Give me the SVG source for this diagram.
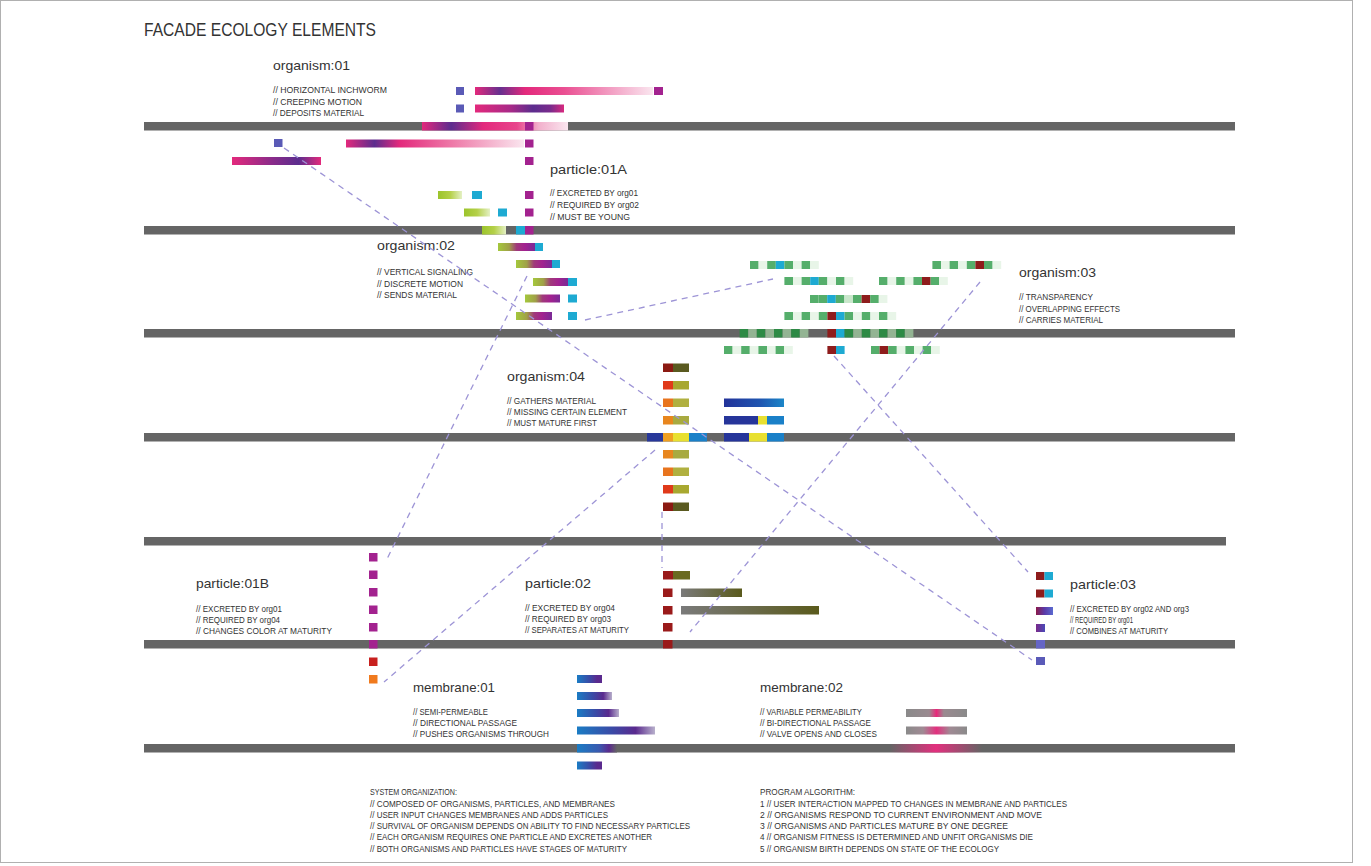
<svg xmlns="http://www.w3.org/2000/svg" width="1371" height="866" viewBox="0 0 1371 866">
<style>
.t{font-family:"Liberation Sans",Arial,sans-serif;fill:#333}
.ttl{font-size:18px}
.lbl{font-size:13px}
.d{font-size:8.3px}
.n{font-size:8.5px}
.bar{fill:#656565}
.mg{fill:#a3228f}
.bs{fill:#5a5ab6}
.cy{fill:#1eaad2}
.G{fill:#55ae6b}.p{fill:#c9e7cb}.pl{fill:#e8f5e8}.C{fill:#1eaad2}.R{fill:#8e1c1c}.D{fill:#2d8a45}.pd{fill:#93b493}
.con{fill:none;stroke:#9d94d6;stroke-width:1.3;stroke-dasharray:6 5}
</style>
<defs>
<linearGradient id="gO1a"><stop offset="0" stop-color="#e3297c"/><stop offset=".14" stop-color="#66308f"/><stop offset=".28" stop-color="#e3297c"/><stop offset=".5" stop-color="#ea4f92"/><stop offset="1" stop-color="#fae6ef"/></linearGradient>
<linearGradient id="gO1b"><stop offset="0" stop-color="#e3297c"/><stop offset=".4" stop-color="#a82a88"/><stop offset=".65" stop-color="#5c2d8e"/><stop offset=".85" stop-color="#7a2b8c"/><stop offset="1" stop-color="#d8297e"/></linearGradient>
<linearGradient id="gO1c"><stop offset="0" stop-color="#e3297c"/><stop offset=".2" stop-color="#5c2d8e"/><stop offset=".42" stop-color="#e3297c"/><stop offset=".65" stop-color="#e8458c"/><stop offset=".8" stop-color="#f2b0cc"/><stop offset="1" stop-color="#fae6ef"/></linearGradient>
<linearGradient id="gO1d"><stop offset="0" stop-color="#e3297c"/><stop offset=".16" stop-color="#5c2d8e"/><stop offset=".3" stop-color="#e3297c"/><stop offset=".6" stop-color="#ee7aa8"/><stop offset="1" stop-color="#fae6ef"/></linearGradient>
<linearGradient id="gO1e"><stop offset="0" stop-color="#e3297c"/><stop offset=".45" stop-color="#8a2b8a"/><stop offset=".75" stop-color="#5c2d8e"/><stop offset="1" stop-color="#e3297c"/></linearGradient>
<linearGradient id="gP1"><stop offset="0" stop-color="#9cc42c"/><stop offset=".5" stop-color="#b4d048"/><stop offset="1" stop-color="#e4f0c4"/></linearGradient>
<linearGradient id="gO2"><stop offset="0" stop-color="#a4c83c"/><stop offset=".3" stop-color="#a0a048"/><stop offset=".5" stop-color="#a03a7a"/><stop offset=".72" stop-color="#a3228f"/><stop offset="1" stop-color="#7a2a96"/></linearGradient>
<linearGradient id="gBlue"><stop offset="0" stop-color="#23339a"/><stop offset=".6" stop-color="#1f55b0"/><stop offset="1" stop-color="#1b86c8"/></linearGradient>
<linearGradient id="gP2"><stop offset="0" stop-color="#7a7a7a"/><stop offset="1" stop-color="#5a5a1c"/></linearGradient>
<linearGradient id="gP3a"><stop offset="0" stop-color="#8b1a4a"/><stop offset=".5" stop-color="#5a3aa8"/><stop offset="1" stop-color="#5a6ad0"/></linearGradient>
<linearGradient id="gP3b"><stop offset="0" stop-color="#7a2a8a"/><stop offset="1" stop-color="#4a4ab8"/></linearGradient>
<linearGradient id="gM1"><stop offset="0" stop-color="#1a7cc4"/><stop offset=".5" stop-color="#3a4aa6"/><stop offset=".8" stop-color="#5a2a8e"/><stop offset="1" stop-color="#5a2a8e"/></linearGradient>
<linearGradient id="gM1f"><stop offset="0" stop-color="#1a7cc4"/><stop offset=".45" stop-color="#3a4aa6"/><stop offset=".75" stop-color="#5a2a8e"/><stop offset="1" stop-color="#b8b0cc"/></linearGradient>
<linearGradient id="gM1b"><stop offset="0" stop-color="#1a7cc4"/><stop offset=".55" stop-color="#3a5ab0"/><stop offset=".8" stop-color="#5a2a8e"/><stop offset="1" stop-color="#656565"/></linearGradient>
<linearGradient id="gM2a"><stop offset="0" stop-color="#8a8a8a"/><stop offset=".38" stop-color="#9a8a90"/><stop offset=".5" stop-color="#e8287a"/><stop offset=".62" stop-color="#9a8a90"/><stop offset="1" stop-color="#8a8a8a"/></linearGradient>
<linearGradient id="gM2b"><stop offset="0" stop-color="#8a8a8a"/><stop offset=".28" stop-color="#a08a94"/><stop offset=".5" stop-color="#e2307e"/><stop offset=".72" stop-color="#a08a94"/><stop offset="1" stop-color="#8a8a8a"/></linearGradient>
<linearGradient id="gM2c"><stop offset="0" stop-color="#e2307e" stop-opacity="0"/><stop offset=".5" stop-color="#e2307e" stop-opacity="1"/><stop offset="1" stop-color="#e2307e" stop-opacity="0"/></linearGradient>
</defs>
<rect width="1371" height="866" fill="#fff"/>
<rect x="0.5" y="0.5" width="1352" height="862" fill="none" stroke="#b0b0b0"/>

<g id="title"><text class="t ttl" x="144" y="36" textLength="232" lengthAdjust="spacingAndGlyphs">FACADE ECOLOGY ELEMENTS</text></g>

<g id="layers">
<rect class="bar" x="144" y="122" width="1091" height="8.5"/>
<rect class="bar" x="144" y="226" width="1091" height="8.5"/>
<rect class="bar" x="144" y="329" width="1091" height="8.5"/>
<rect class="bar" x="144" y="433" width="1091" height="8.5"/>
<rect class="bar" x="144" y="537" width="1082" height="8.5"/>
<rect class="bar" x="144" y="640" width="1091" height="8.5"/>
<rect class="bar" x="144" y="744" width="1091" height="8.5"/>
</g>

<g id="organism01">
<text class="t lbl" x="273" y="70" textLength="77" lengthAdjust="spacingAndGlyphs">organism:01</text>
<text class="t d" x="273" y="93" textLength="114" lengthAdjust="spacingAndGlyphs">// HORIZONTAL INCHWORM</text>
<text class="t d" x="273" y="104.5" textLength="89" lengthAdjust="spacingAndGlyphs">// CREEPING MOTION</text>
<text class="t d" x="273" y="116" textLength="91" lengthAdjust="spacingAndGlyphs">// DEPOSITS MATERIAL</text>
<rect class="bs" x="456" y="87" width="8" height="8"/>
<rect x="475" y="87" width="178" height="8" fill="url(#gO1a)"/>
<rect class="mg" x="654" y="87" width="9" height="8"/>
<rect class="bs" x="456" y="104.5" width="8" height="8"/>
<rect x="475" y="104.5" width="89" height="8" fill="url(#gO1b)"/>
<rect x="422" y="122" width="146" height="8.5" fill="url(#gO1c)"/>
<rect class="bs" x="274" y="139" width="8.5" height="8"/>
<rect x="346" y="139.5" width="178" height="8" fill="url(#gO1d)"/>
<rect x="232" y="157" width="89" height="8" fill="url(#gO1e)"/>
</g>

<g id="particle01A">
<text class="t lbl" x="550" y="174" textLength="77" lengthAdjust="spacingAndGlyphs">particle:01A</text>
<text class="t d" x="550" y="196" textLength="88" lengthAdjust="spacingAndGlyphs">// EXCRETED BY org01</text>
<text class="t d" x="550" y="208" textLength="89" lengthAdjust="spacingAndGlyphs">// REQUIRED BY org02</text>
<text class="t d" x="550" y="220" textLength="80" lengthAdjust="spacingAndGlyphs">// MUST BE YOUNG</text>
<rect class="mg" x="525" y="122" width="8.5" height="8.5"/>
<rect class="mg" x="525" y="139.5" width="8.5" height="8"/>
<rect class="mg" x="525" y="157" width="8.5" height="8"/>
<rect class="mg" x="525" y="191" width="8.5" height="8"/>
<rect class="mg" x="525" y="208.5" width="8.5" height="8"/>
<rect class="mg" x="525" y="226" width="8.5" height="8.5"/>
<rect x="438" y="191" width="24" height="8" fill="url(#gP1)"/>
<rect class="cy" x="472" y="191" width="10" height="8"/>
<rect x="464" y="208.5" width="26" height="8" fill="url(#gP1)"/>
<rect class="cy" x="498" y="208.5" width="9" height="8"/>
<rect x="482" y="226" width="24" height="8.5" fill="url(#gP1)"/>
<rect class="cy" x="516" y="226" width="9" height="8.5"/>
</g>

<g id="organism02">
<text class="t lbl" x="377" y="250" textLength="78" lengthAdjust="spacingAndGlyphs">organism:02</text>
<text class="t d" x="377" y="275" textLength="96" lengthAdjust="spacingAndGlyphs">// VERTICAL SIGNALING</text>
<text class="t d" x="377" y="286.5" textLength="86" lengthAdjust="spacingAndGlyphs">// DISCRETE MOTION</text>
<text class="t d" x="377" y="298" textLength="80" lengthAdjust="spacingAndGlyphs">// SENDS MATERIAL</text>
<rect x="498" y="243" width="37" height="8" fill="url(#gO2)"/><rect class="cy" x="535" y="243" width="8" height="8"/>
<rect x="516" y="260" width="36" height="8" fill="url(#gO2)"/><rect class="cy" x="552" y="260" width="8" height="8"/>
<rect x="533" y="278" width="35" height="8" fill="url(#gO2)"/><rect class="cy" x="568" y="278" width="9" height="8"/>
<rect x="525" y="294.5" width="35" height="8" fill="url(#gO2)"/><rect class="cy" x="568" y="294.5" width="9" height="8"/>
<rect x="516" y="312" width="36" height="8" fill="url(#gO2)"/><rect class="cy" x="568" y="312" width="9" height="8"/>
</g>

<g id="organism03">
<text class="t lbl" x="1019" y="277" textLength="77" lengthAdjust="spacingAndGlyphs">organism:03</text>
<text class="t d" x="1019" y="300" textLength="74" lengthAdjust="spacingAndGlyphs">// TRANSPARENCY</text>
<text class="t d" x="1019" y="312" textLength="101" lengthAdjust="spacingAndGlyphs">// OVERLAPPING EFFECTS</text>
<text class="t d" x="1019" y="323" textLength="84" lengthAdjust="spacingAndGlyphs">// CARRIES MATERIAL</text>
<!-- row 1 -->
<g transform="translate(750,261)"><rect class="G" x="0" width="8.6" height="8"/><rect class="pl" x="8.6" width="8.6" height="8"/><rect class="G" x="17.2" width="8.6" height="8"/><rect class="C" x="25.8" width="8.6" height="8"/><rect class="G" x="34.4" width="8.6" height="8"/><rect class="pl" x="43" width="8.6" height="8"/><rect class="G" x="51.6" width="8.6" height="8"/><rect class="pl" x="60.2" width="8.6" height="8"/></g>
<g transform="translate(932.4,261)"><rect class="G" x="0" width="8.6" height="8"/><rect class="pl" x="8.6" width="8.6" height="8"/><rect class="G" x="17.2" width="8.6" height="8"/><rect class="pl" x="25.8" width="8.6" height="8"/><rect class="G" x="34.4" width="8.6" height="8"/><rect class="R" x="43" width="8.6" height="8"/><rect class="G" x="51.6" width="8.6" height="8"/><rect class="pl" x="60.2" width="8.6" height="8"/></g>
<!-- row 2 -->
<g transform="translate(784.4,277)"><rect class="G" x="0" width="8.6" height="8"/><rect class="pl" x="8.6" width="8.6" height="8"/><rect class="G" x="17.2" width="8.6" height="8"/><rect class="C" x="25.8" width="8.6" height="8"/><rect class="G" x="34.4" width="8.6" height="8"/><rect class="pl" x="43" width="8.6" height="8"/><rect class="G" x="51.6" width="8.6" height="8"/><rect class="pl" x="60.2" width="8.6" height="8"/></g>
<g transform="translate(879,277)"><rect class="G" x="0" width="8.6" height="8"/><rect class="pl" x="8.6" width="8.6" height="8"/><rect class="G" x="17.2" width="8.6" height="8"/><rect class="pl" x="25.8" width="8.6" height="8"/><rect class="G" x="34.4" width="8.6" height="8"/><rect class="R" x="43" width="8.6" height="8"/><rect class="G" x="51.6" width="8.6" height="8"/><rect class="pl" x="60.2" width="8.6" height="8"/></g>
<!-- row 3 -->
<g transform="translate(810,295)"><rect class="G" x="0" width="8.6" height="8"/><rect class="G" x="8.6" width="8.6" height="8"/><rect class="C" x="17.2" width="8.6" height="8"/><rect class="G" x="25.8" width="8.6" height="8"/><rect class="p" x="34.4" width="8.6" height="8"/><rect class="G" x="43" width="8.6" height="8"/><rect class="R" x="51.6" width="8.6" height="8"/><rect class="G" x="60.2" width="8.6" height="8"/><rect class="pl" x="68.8" width="8.6" height="8"/></g>
<!-- row 4 -->
<g transform="translate(784.4,312)"><rect class="G" x="0" width="8.6" height="8"/><rect class="pl" x="8.6" width="8.6" height="8"/><rect class="G" x="17.2" width="8.6" height="8"/><rect class="pl" x="25.8" width="8.6" height="8"/><rect class="G" x="34.4" width="8.6" height="8"/><rect class="R" x="43" width="8.6" height="8"/><rect class="C" x="51.6" width="8.6" height="8"/><rect class="G" x="60.2" width="8.6" height="8"/><rect class="pl" x="68.8" width="8.6" height="8"/><rect class="G" x="77.4" width="8.6" height="8"/><rect class="pl" x="86" width="8.6" height="8"/><rect class="G" x="94.6" width="8.6" height="8"/><rect class="pl" x="103.2" width="8.6" height="8"/></g>
<!-- on layer -->
<g transform="translate(739.6,329)"><rect class="D" x="0" width="8.6" height="8.5"/><rect class="pd" x="8.6" width="8.6" height="8.5"/><rect class="D" x="17.2" width="8.6" height="8.5"/><rect class="pd" x="25.8" width="8.6" height="8.5"/><rect class="D" x="34.4" width="8.6" height="8.5"/><rect class="pd" x="43" width="8.6" height="8.5"/><rect class="D" x="51.6" width="8.6" height="8.5"/><rect class="pd" x="60.2" width="8.6" height="8.5"/></g>
<g transform="translate(827.4,329)"><rect class="R" x="0" width="8.6" height="8.5"/><rect class="C" x="8.6" width="8.6" height="8.5"/><rect class="D" x="17.2" width="8.6" height="8.5"/><rect class="pd" x="25.8" width="8.6" height="8.5"/><rect class="D" x="34.4" width="8.6" height="8.5"/><rect class="pd" x="43" width="8.6" height="8.5"/><rect class="D" x="51.6" width="8.6" height="8.5"/><rect class="pd" x="60.2" width="8.6" height="8.5"/><rect class="D" x="68.8" width="8.6" height="8.5"/><rect class="pd" x="77.4" width="8.6" height="8.5"/></g>
<!-- below layer -->
<g transform="translate(724,346)"><rect class="G" x="0" width="8.6" height="8"/><rect class="pl" x="8.6" width="8.6" height="8"/><rect class="G" x="17.2" width="8.6" height="8"/><rect class="pl" x="25.8" width="8.6" height="8"/><rect class="G" x="34.4" width="8.6" height="8"/><rect class="pl" x="43" width="8.6" height="8"/><rect class="G" x="51.6" width="8.6" height="8"/><rect class="pl" x="60.2" width="8.6" height="8"/></g>
<rect class="R" x="827.4" y="346" width="8.6" height="8"/><rect class="C" x="836" y="346" width="8.6" height="8"/>
<g transform="translate(871,346)"><rect class="G" x="0" width="8.6" height="8"/><rect class="R" x="8.6" width="8.6" height="8"/><rect class="G" x="17.2" width="8.6" height="8"/><rect class="pl" x="25.8" width="8.6" height="8"/><rect class="G" x="34.4" width="8.6" height="8"/><rect class="pl" x="43" width="8.6" height="8"/><rect class="G" x="51.6" width="8.6" height="8"/><rect class="pl" x="60.2" width="8.6" height="8"/></g>
</g>

<g id="organism04">
<text class="t lbl" x="507" y="381" textLength="78" lengthAdjust="spacingAndGlyphs">organism:04</text>
<text class="t d" x="507" y="404" textLength="89" lengthAdjust="spacingAndGlyphs">// GATHERS MATERIAL</text>
<text class="t d" x="507" y="415" textLength="120" lengthAdjust="spacingAndGlyphs">// MISSING CERTAIN ELEMENT</text>
<text class="t d" x="507" y="426" textLength="90" lengthAdjust="spacingAndGlyphs">// MUST MATURE FIRST</text>
<rect x="663" y="363.5" width="10" height="8.5" fill="#8b1a12"/><rect x="673" y="363.5" width="16" height="8.5" fill="#5a5a20"/>
<rect x="663" y="381" width="10" height="8.5" fill="#e03a1a"/><rect x="673" y="381" width="16" height="8.5" fill="#a8a830"/>
<rect x="663" y="398.5" width="10" height="8.5" fill="#e8741e"/><rect x="673" y="398.5" width="16" height="8.5" fill="#b0b040"/>
<rect x="663" y="416" width="10" height="8.5" fill="#e8861e"/><rect x="673" y="416" width="16" height="8.5" fill="#a8aa40"/>
<rect x="647" y="433" width="16" height="8.5" fill="#28389a"/><rect x="663" y="433" width="10" height="8.5" fill="#f0a020"/><rect x="673" y="433" width="16" height="8.5" fill="#e8e030"/><rect x="689" y="433" width="18" height="8.5" fill="#1a80c8"/>
<rect x="663" y="450" width="10" height="8.5" fill="#e8861e"/><rect x="673" y="450" width="16" height="8.5" fill="#a8aa40"/>
<rect x="663" y="467.5" width="10" height="8.5" fill="#e8741e"/><rect x="673" y="467.5" width="16" height="8.5" fill="#b0b040"/>
<rect x="663" y="485" width="10" height="8.5" fill="#e03a1a"/><rect x="673" y="485" width="16" height="8.5" fill="#a8a830"/>
<rect x="663" y="502.5" width="10" height="8.5" fill="#8b1a12"/><rect x="673" y="502.5" width="16" height="8.5" fill="#5a5a20"/>
<rect x="724" y="398.5" width="60" height="8.5" fill="url(#gBlue)"/>
<rect x="724" y="416" width="34" height="8.5" fill="#26359a"/><rect x="758" y="416" width="9" height="8.5" fill="#e8e030"/><rect x="767" y="416" width="17" height="8.5" fill="#1a80c8"/>
<rect x="724" y="433" width="25" height="8.5" fill="#26359a"/><rect x="749" y="433" width="18" height="8.5" fill="#e8e030"/><rect x="767" y="433" width="17" height="8.5" fill="#1a80c8"/>
</g>

<g id="particle01B">
<text class="t lbl" x="196" y="588" textLength="73" lengthAdjust="spacingAndGlyphs">particle:01B</text>
<text class="t d" x="196" y="612" textLength="86" lengthAdjust="spacingAndGlyphs">// EXCRETED BY org01</text>
<text class="t d" x="196" y="623" textLength="84" lengthAdjust="spacingAndGlyphs">// REQUIRED BY org04</text>
<text class="t d" x="196" y="634" textLength="136" lengthAdjust="spacingAndGlyphs">// CHANGES COLOR AT MATURITY</text>
<rect class="mg" x="369" y="553" width="8.5" height="8.5"/>
<rect class="mg" x="369" y="570.5" width="8.5" height="8.5"/>
<rect class="mg" x="369" y="588" width="8.5" height="8.5"/>
<rect class="mg" x="369" y="605.5" width="8.5" height="8.5"/>
<rect class="mg" x="369" y="623" width="8.5" height="8.5"/>
<rect class="mg" x="369" y="640" width="8.5" height="8.5"/>
<rect x="369" y="657.5" width="8.5" height="8.5" fill="#c8201e"/>
<rect x="369" y="675" width="8.5" height="8.5" fill="#f07a1e"/>
</g>

<g id="particle02">
<text class="t lbl" x="525" y="588" textLength="66" lengthAdjust="spacingAndGlyphs">particle:02</text>
<text class="t d" x="525" y="611" textLength="90" lengthAdjust="spacingAndGlyphs">// EXCRETED BY org04</text>
<text class="t d" x="525" y="622" textLength="86" lengthAdjust="spacingAndGlyphs">// REQUIRED BY org03</text>
<text class="t d" x="525" y="633" textLength="104" lengthAdjust="spacingAndGlyphs">// SEPARATES AT MATURITY</text>
<rect x="663" y="571" width="10" height="8.5" fill="#9a1a1a"/><rect x="673" y="571" width="17" height="8.5" fill="#6a6a20"/>
<rect x="663" y="588.5" width="9.5" height="8.5" fill="#9a1a1a"/>
<rect x="681" y="588.5" width="61" height="8.5" fill="url(#gP2)"/>
<rect x="663" y="606" width="9.5" height="8.5" fill="#9a1a1a"/>
<rect x="681" y="606" width="138" height="8.5" fill="url(#gP2)"/>
<rect x="663" y="623" width="9.5" height="8.5" fill="#9a1a1a"/>
<rect x="663" y="640" width="9.5" height="8.5" fill="#9a1a1a"/>
</g>

<g id="particle03">
<text class="t lbl" x="1070" y="589" textLength="66" lengthAdjust="spacingAndGlyphs">particle:03</text>
<text class="t d" x="1070" y="612" textLength="119" lengthAdjust="spacingAndGlyphs">// EXCRETED BY org02 AND org3</text>
<text class="t d" x="1070" y="623" textLength="63" lengthAdjust="spacingAndGlyphs">// REQUIRED BY org01</text>
<text class="t d" x="1070" y="634" textLength="98" lengthAdjust="spacingAndGlyphs">// COMBINES AT MATURITY</text>
<rect x="1036" y="572" width="8.5" height="8" fill="#8e1c1c"/><rect x="1044.5" y="572" width="8.5" height="8" fill="#1eaad2"/>
<rect x="1036" y="589.5" width="8.5" height="8" fill="#8e1c1c"/><rect x="1044.5" y="589.5" width="8.5" height="8" fill="#1eaad2"/>
<rect x="1036" y="607" width="17" height="8" fill="url(#gP3a)"/>
<rect x="1036" y="624" width="9" height="8" fill="url(#gP3b)"/>
<rect x="1036" y="640" width="9" height="8.5" fill="#6565c5"/>
<rect x="1036" y="657" width="9" height="8" fill="#5a5ab8"/>
</g>

<g id="membrane01">
<text class="t lbl" x="413" y="692" textLength="82" lengthAdjust="spacingAndGlyphs">membrane:01</text>
<text class="t d" x="413" y="715" textLength="75" lengthAdjust="spacingAndGlyphs">// SEMI-PERMEABLE</text>
<text class="t d" x="413" y="726" textLength="104" lengthAdjust="spacingAndGlyphs">// DIRECTIONAL PASSAGE</text>
<text class="t d" x="413" y="737" textLength="136" lengthAdjust="spacingAndGlyphs">// PUSHES ORGANISMS THROUGH</text>
<rect x="577" y="675" width="25" height="8" fill="url(#gM1)"/>
<rect x="577" y="692" width="35" height="8" fill="url(#gM1f)"/>
<rect x="577" y="709" width="42" height="8" fill="url(#gM1f)"/>
<rect x="577" y="726.5" width="78" height="8" fill="url(#gM1f)"/>
<rect x="577" y="744" width="40" height="8.5" fill="url(#gM1b)"/>
<rect x="577" y="761.5" width="25" height="8" fill="url(#gM1)"/>
</g>

<g id="membrane02">
<text class="t lbl" x="760" y="692" textLength="83" lengthAdjust="spacingAndGlyphs">membrane:02</text>
<text class="t d" x="760" y="715" textLength="102" lengthAdjust="spacingAndGlyphs">// VARIABLE PERMEABILITY</text>
<text class="t d" x="760" y="726" textLength="111" lengthAdjust="spacingAndGlyphs">// BI-DIRECTIONAL PASSAGE</text>
<text class="t d" x="760" y="737" textLength="117" lengthAdjust="spacingAndGlyphs">// VALVE OPENS AND CLOSES</text>
<rect x="906" y="709" width="61" height="8" fill="url(#gM2a)"/>
<rect x="906" y="726.5" width="61" height="8" fill="url(#gM2b)"/>
<rect x="890" y="744" width="92" height="8.5" fill="url(#gM2c)"/>
</g>

<g id="notes">
<text class="t n" x="370" y="795" textLength="87" lengthAdjust="spacingAndGlyphs">SYSTEM ORGANIZATION:</text>
<text class="t n" x="370" y="807" textLength="245" lengthAdjust="spacingAndGlyphs">// COMPOSED OF ORGANISMS, PARTICLES, AND MEMBRANES</text>
<text class="t n" x="370" y="818" textLength="238" lengthAdjust="spacingAndGlyphs">// USER INPUT CHANGES MEMBRANES AND ADDS PARTICLES</text>
<text class="t n" x="370" y="829" textLength="320" lengthAdjust="spacingAndGlyphs">// SURVIVAL OF ORGANISM DEPENDS ON ABILITY TO FIND NECESSARY PARTICLES</text>
<text class="t n" x="370" y="840" textLength="282" lengthAdjust="spacingAndGlyphs">// EACH ORGANISM REQUIRES ONE PARTICLE AND EXCRETES ANOTHER</text>
<text class="t n" x="370" y="851.5" textLength="257" lengthAdjust="spacingAndGlyphs">// BOTH ORGANISMS AND PARTICLES HAVE STAGES OF MATURITY</text>
<text class="t n" x="760" y="795" textLength="95" lengthAdjust="spacingAndGlyphs">PROGRAM ALGORITHM:</text>
<text class="t n" x="760" y="807" textLength="307" lengthAdjust="spacingAndGlyphs">1 // USER INTERACTION MAPPED TO CHANGES IN MEMBRANE AND PARTICLES</text>
<text class="t n" x="760" y="818" textLength="282" lengthAdjust="spacingAndGlyphs">2 // ORGANISMS RESPOND TO CURRENT ENVIRONMENT AND MOVE</text>
<text class="t n" x="760" y="829" textLength="248" lengthAdjust="spacingAndGlyphs">3 // ORGANISMS AND PARTICLES MATURE BY ONE DEGREE</text>
<text class="t n" x="760" y="840" textLength="273" lengthAdjust="spacingAndGlyphs">4 // ORGANISM FITNESS IS DETERMINED AND UNFIT ORGANISMS DIE</text>
<text class="t n" x="760" y="851.5" textLength="239" lengthAdjust="spacingAndGlyphs">5 // ORGANISM BIRTH DEPENDS ON STATE OF THE ECOLOGY</text>
</g>

<g id="connectors">
<line class="con" x1="284" y1="148" x2="1032" y2="660"/>
<line class="con" x1="834" y1="356" x2="1028" y2="572"/>
<line class="con" x1="585" y1="320" x2="773" y2="279"/>
<line class="con" x1="980" y1="282" x2="690" y2="632"/>
<line class="con" x1="527" y1="276" x2="386" y2="561"/>
<line class="con" x1="655" y1="450" x2="384" y2="682"/>
<line class="con" x1="662" y1="512" x2="662" y2="568"/>
</g>
</svg>
